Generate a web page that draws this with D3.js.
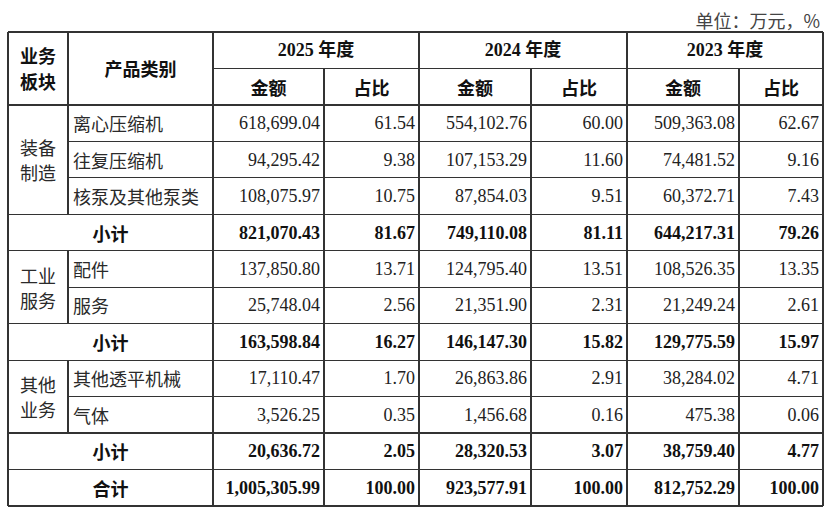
<!DOCTYPE html>
<html lang="zh">
<head>
<meta charset="UTF-8">
<title>业务板块收入构成</title>
<script src="https://d3js.org/d3.v7.min.js"></script>
<style>
  body { margin: 0; background: #fff; }
  svg text { fill: #222; }
  .num { font-family: "Liberation Serif", "Noto Sans CJK SC", serif; font-size: 18px; }
  .cjk { font-family: "Noto Sans CJK SC", sans-serif; font-size: 18px; }
  .bold { font-weight: bold; fill: #111; }
</style>
</head>
<body>
<script>
  // data
  const unitLabel = "单位：万元，%";
  const years = ["2025 年度", "2024 年度", "2023 年度"];
  const subHeads = ["金额", "占比"];
  const segments = ["装备制造", "工业服务", "其他业务"];
  const segmentLines = [["装备", "制造"], ["工业", "服务"], ["其他", "业务"]];
  const products = ["离心压缩机", "往复压缩机", "核泵及其他泵类", "配件", "服务", "其他透平机械", "气体"];
  const productSegment = [0, 0, 0, 1, 1, 2, 2];

  const amount2025 = ["618,699.04", "94,295.42", "108,075.97", "137,850.80", "25,748.04", "17,110.47", "3,526.25"];
  const share2025 = ["61.54", "9.38", "10.75", "13.71", "2.56", "1.70", "0.35"];
  const amount2024 = ["554,102.76", "107,153.29", "87,854.03", "124,795.40", "21,351.90", "26,863.86", "1,456.68"];
  const share2024 = ["60.00", "11.60", "9.51", "13.51", "2.31", "2.91", "0.16"];
  const amount2023 = ["509,363.08", "74,481.52", "60,372.71", "108,526.35", "21,249.24", "38,284.02", "475.38"];
  const share2023 = ["62.67", "9.16", "7.43", "13.35", "2.61", "4.71", "0.06"];

  const subAmount2025 = ["821,070.43", "163,598.84", "20,636.72"];
  const subShare2025 = ["81.67", "16.27", "2.05"];
  const subAmount2024 = ["749,110.08", "146,147.30", "28,320.53"];
  const subShare2024 = ["81.11", "15.82", "3.07"];
  const subAmount2023 = ["644,217.31", "129,775.59", "38,759.40"];
  const subShare2023 = ["79.26", "15.97", "4.77"];

  const totalAmount = ["1,005,305.99", "923,577.91", "812,752.29"];
  const totalShare = ["100.00", "100.00", "100.00"];

  const amounts = [amount2025, amount2024, amount2023];
  const shares = [share2025, share2024, share2023];
  const subAmounts = [subAmount2025, subAmount2024, subAmount2023];
  const subShares = [subShare2025, subShare2024, subShare2023];

  // build body rows: products of each segment, then subtotal, then total
  const rows = [];
  segments.forEach((seg, s) => {
    products.forEach((p, i) => {
      if (productSegment[i] !== s) return;
      const vals = [];
      years.forEach((y, k) => { vals.push(amounts[k][i], shares[k][i]); });
      rows.push({ type: "item", seg: s, label: p, vals });
    });
    const vals = [];
    years.forEach((y, k) => { vals.push(subAmounts[k][s], subShares[k][s]); });
    rows.push({ type: "sub", seg: s, label: "小计", vals });
  });
  {
    const vals = [];
    years.forEach((y, k) => { vals.push(totalAmount[k], totalShare[k]); });
    rows.push({ type: "total", label: "合计", vals });
  }

  // layout
  const W = 831, H = 510;
  const colEdges = [8, 68, 213, 324, 419, 531, 627, 739, 823];
  const left = colEdges[0], right = colEdges[colEdges.length - 1];
  const nRows = rows.length + 2;
  const y = d3.scaleLinear().domain([0, nRows]).range([32, 506]);
  const lineColor = "#333";
  const pad = 4;

  const svg = d3.select("body").append("svg")
    .attr("width", W).attr("height", H);

  svg.append("text")
    .attr("class", "cjk")
    .attr("x", 820).attr("y", 20)
    .attr("text-anchor", "end")
    .attr("dominant-baseline", "central")
    .style("fill", "#444")
    .text(unitLabel);

  const lines = svg.append("g")
    .attr("stroke", lineColor)
    .attr("stroke-width", 1.2)
    .attr("shape-rendering", "crispEdges");

  function hline(x1, x2, yy) {
    lines.append("line").attr("x1", x1).attr("x2", x2).attr("y1", yy).attr("y2", yy);
  }
  function vline(xx, y1, y2) {
    lines.append("line").attr("x1", xx).attr("x2", xx).attr("y1", y1).attr("y2", y2);
  }

  // horizontal lines
  hline(left, right, y(0));
  hline(colEdges[2], right, y(1));
  hline(left, right, y(2));
  rows.forEach((r, i) => {
    const yy = y(i + 3);
    const next = rows[i + 1];
    if (r.type === "item" && next && next.type === "item") hline(colEdges[1], right, yy);
    else hline(left, right, yy);
  });

  // vertical lines
  vline(left, y(0), y(nRows));
  vline(right, y(0), y(nRows));
  vline(colEdges[2], y(0), y(nRows));
  [4, 6].forEach(c => vline(colEdges[c], y(0), y(nRows)));
  [3, 5, 7].forEach(c => vline(colEdges[c], y(1), y(nRows)));
  vline(colEdges[1], y(0), y(2));
  rows.forEach((r, i) => {
    if (r.type === "item") vline(colEdges[1], y(i + 2), y(i + 3));
  });

  const txt = svg.append("g");
  function put(cls, x, yy, anchor, s) {
    return txt.append("text")
      .attr("class", cls)
      .attr("x", x).attr("y", yy)
      .attr("text-anchor", anchor)
      .attr("dominant-baseline", "central")
      .text(s);
  }
  const mid = (a, b) => (a + b) / 2;

  // header
  put("cjk bold", mid(colEdges[0], colEdges[1]), y(1) - 13, "middle", "业务");
  put("cjk bold", mid(colEdges[0], colEdges[1]), y(1) + 13, "middle", "板块");
  put("cjk bold", mid(colEdges[1], colEdges[2]), y(1), "middle", "产品类别");
  years.forEach((yr, k) => {
    put("num bold", mid(colEdges[2 + 2 * k], colEdges[4 + 2 * k]), mid(y(0), y(1)), "middle", yr);
    subHeads.forEach((h, j) => {
      put("cjk bold", mid(colEdges[2 + 2 * k + j], colEdges[3 + 2 * k + j]), mid(y(1), y(2)), "middle", h);
    });
  });

  // body
  rows.forEach((r, i) => {
    const cy = mid(y(i + 2), y(i + 3));
    const bold = r.type !== "item";
    if (r.type === "item") {
      put("cjk", colEdges[1] + pad + 1, cy, "start", r.label).style("fill", "#2a2a2a");
    } else {
      put("cjk bold", mid(colEdges[0], colEdges[2]), cy, "middle", r.label);
    }
    r.vals.forEach((v, j) => {
      put(bold ? "num bold" : "num", colEdges[3 + j] - pad, cy, "end", v);
    });
  });

  // segment labels, centred on their item rows
  segments.forEach((seg, s) => {
    const idx = rows.map((r, i) => (r.type === "item" && r.seg === s) ? i : -1).filter(i => i >= 0);
    const cy = mid(y(idx[0] + 2), y(idx[idx.length - 1] + 3));
    const ls = segmentLines[s];
    put("cjk", mid(colEdges[0], colEdges[1]), cy - 12.5, "middle", ls[0]).style("fill", "#2a2a2a");
    put("cjk", mid(colEdges[0], colEdges[1]), cy + 12.5, "middle", ls[1]).style("fill", "#2a2a2a");
  });
</script>
</body>
</html>
